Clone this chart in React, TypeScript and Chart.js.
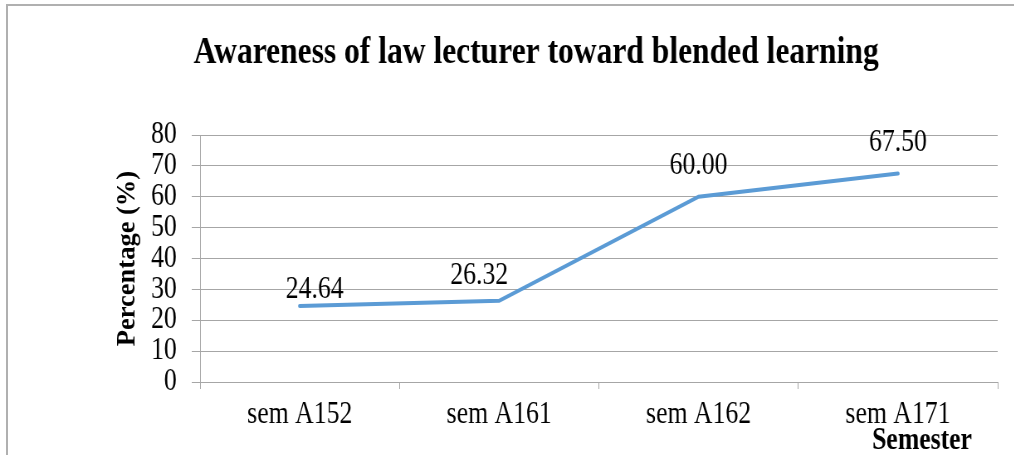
import React, { useEffect, useRef } from "react";
import { Chart, registerables } from "chart.js";

Chart.register(...registerables);

const categories = ["sem A152", "sem A161", "sem A162", "sem A171"];
const awareness = [24.64, 26.32, 60.0, 67.5];
const yTicks = [0, 10, 20, 30, 40, 50, 60, 70, 80];
const labelOffsets = [
  [18, -16],
  [-24, -25],
  [0, -31],
  [0, -31],
];

const FONT = "'Liberation Serif', 'Times New Roman', serif";
// The reference is horizontally condensed; draw on a wider canvas and squeeze it.
const SQUEEZE = 0.83;
const VIEW_W = 1014;
const VIEW_H = 455;
const CANVAS_W = Math.round(VIEW_W / SQUEEZE);

const dataLabelPlugin = {
  id: "dataLabels",
  afterDatasetsDraw(chart: any) {
    const { ctx } = chart;
    const meta = chart.getDatasetMeta(0);
    ctx.save();
    ctx.font = `31px ${FONT}`;
    ctx.fillStyle = "#000";
    ctx.textAlign = "center";
    ctx.textBaseline = "middle";
    meta.data.forEach((pt: any, i: number) => {
      const v = awareness[i];
      const [dx, dy] = labelOffsets[i];
      ctx.fillText(v.toFixed(2), pt.x + dx, pt.y + dy);
    });
    ctx.restore();
  },
};

const axisTitlesPlugin = {
  id: "axisTitles",
  afterDraw(chart: any) {
    const { ctx } = chart;
    const xs = chart.scales.x;
    const ys = chart.scales.y;
    ctx.save();
    ctx.font = `bold 31px ${FONT}`;
    ctx.fillStyle = "#000";
    ctx.textAlign = "center";
    ctx.textBaseline = "middle";
    ctx.fillText("Semester", xs.getPixelForValue(3) + 29, 441);
    ctx.restore();

    // vertical axis title (not condensed in the reference)
    ctx.save();
    ctx.translate(ys.left + 64, (ys.top + ys.bottom) / 2);
    ctx.scale(1 / SQUEEZE, 1);
    ctx.rotate(-Math.PI / 2);
    ctx.font = `bold 26.5px ${FONT}`;
    ctx.fillStyle = "#000";
    ctx.textAlign = "center";
    ctx.textBaseline = "middle";
    ctx.fillText("Percentage (%)", 0, 0);
    ctx.restore();
  },
};

export default function App() {
  const ref = useRef<HTMLCanvasElement | null>(null);
  useEffect(() => {
    if (!ref.current) return;
    const grid = "#a6a6a6";
    const chart = new Chart(ref.current, {
      type: "line",
      data: {
        labels: categories,
        datasets: [
          {
            data: awareness,
            borderColor: "#5B9BD5",
            backgroundColor: "#5B9BD5",
            borderWidth: 4,
            pointRadius: 0,
            tension: 0,
            borderCapStyle: "round",
            borderJoinStyle: "miter",
          },
        ],
      },
      options: {
        animation: false,
        responsive: false,
        maintainAspectRatio: false,
        devicePixelRatio: 1,
        layout: { padding: { left: 90, right: 20, top: 0, bottom: 0 } },
        plugins: {
          legend: { display: false },
          tooltip: { enabled: false },
          title: {
            display: true,
            text: "Awareness of law lecturer toward blended learning",
            color: "#000",
            font: { family: FONT, size: 38, weight: "bold", lineHeight: 1.2 },
            padding: { top: 30, bottom: 59.4 },
          },
        },
        scales: {
          x: {
            type: "category",
            offset: true,
            grid: {
              offset: true,
              drawOnChartArea: false,
              drawTicks: true,
              tickLength: 7,
              color: grid,
            },
            border: { display: true, color: grid, width: 1 },
            ticks: {
              color: "#000",
              font: { family: FONT, size: 31 },
              padding: 7,
              maxRotation: 0,
              autoSkip: false,
            },
            afterFit: (s: any) => {
              s.height = 73;
            },
          },
          y: {
            min: 0,
            max: 80,
            afterBuildTicks: (s: any) => {
              s.ticks = yTicks.map((v) => ({ value: v }));
            },
            grid: {
              color: grid,
              drawTicks: true,
              tickLength: 10,
            },
            border: { display: true, color: grid, width: 1 },
            ticks: {
              color: "#000",
              font: { family: FONT, size: 31 },
              padding: 18,
              autoSkip: false,
            },
            title: { display: false },
            afterFit: (s: any) => {
              s.width = 151;
            },
          },
        },
      },
      plugins: [dataLabelPlugin, axisTitlesPlugin],
    });
    return () => chart.destroy();
  }, []);

  return (
    <div
      style={{
        position: "absolute",
        left: 0,
        top: 0,
        width: VIEW_W,
        height: VIEW_H,
        background: "#fff",
        overflow: "hidden",
      }}
    >
      <div
        style={{
          position: "absolute",
          left: 6,
          top: 4,
          width: 1008,
          height: 600,
          borderLeft: "2px solid #b0b0b0",
          borderTop: "2px solid #b0b0b0",
        }}
      />
      <canvas
        ref={ref}
        width={CANVAS_W}
        height={VIEW_H}
        style={{
          position: "absolute",
          left: 0,
          top: 0,
          transform: `scaleX(${SQUEEZE})`,
          transformOrigin: "0 0",
        }}
      />
    </div>
  );
}
